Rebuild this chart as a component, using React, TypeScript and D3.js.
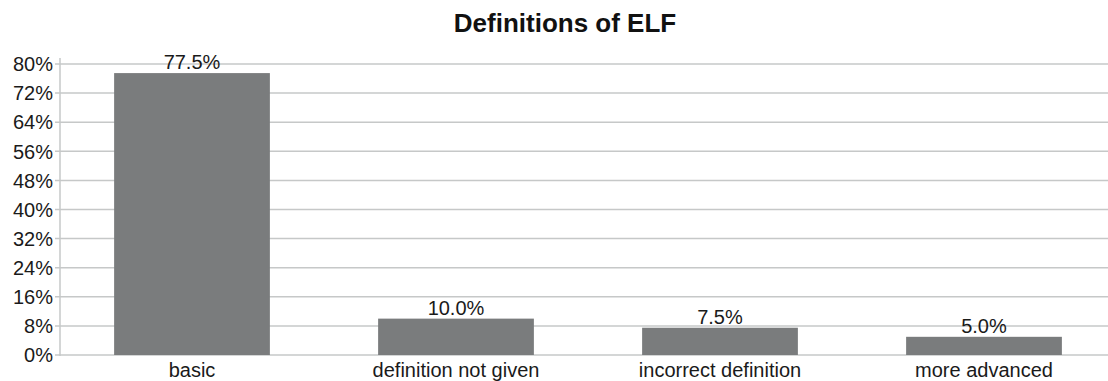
import React from "react";
import * as d3 from "d3";

const categories = ["basic", "definition not given", "incorrect definition", "more advanced"];
const values = [77.5, 10.0, 7.5, 5.0];
const yTicks = [0, 8, 16, 24, 32, 40, 48, 56, 64, 72, 80];

const W = 1108;
const H = 381;
const FONT = "'Liberation Sans', Arial, Helvetica, sans-serif";

export default function App() {
  const x = d3
    .scaleBand<string>()
    .domain(categories)
    .range([60, 1116])
    .paddingInner(0.41)
    .paddingOuter(0.205);
  const y = d3.scaleLinear().domain([0, 80]).range([355, 64]);

  return (
    <svg
      width={W}
      height={H}
      style={{ position: "absolute", left: 0, top: 0, background: "#fff" }}
      fontFamily={FONT}
    >
      <text x={565} y={32} textAnchor="middle" fontSize={26} fontWeight="bold" fill="#111">
        Definitions of ELF
      </text>

      {yTicks.map((t) => (
        <g key={t}>
          <line x1={55} x2={W} y1={y(t)} y2={y(t)} stroke="#c6c8c8" strokeWidth={1.5} />
          <text x={53} y={y(t)} dy="0.36em" textAnchor="end" fontSize={20} fill="#1a1a1a">
            {t}%
          </text>
        </g>
      ))}
      <line x1={60} x2={60} y1={58} y2={356} stroke="#c6c8c8" strokeWidth={1.5} />

      {categories.map((c, i) => (
        <g key={c}>
          <rect
            x={x(c)}
            y={y(values[i])}
            width={x.bandwidth()}
            height={y(0) - y(values[i])}
            fill="#7a7c7d"
          />
          <text
            x={(x(c) as number) + x.bandwidth() / 2}
            y={y(values[i]) - 4}
            textAnchor="middle"
            fontSize={20}
            fill="#1a1a1a"
          >
            {values[i].toFixed(1)}%
          </text>
          <text
            x={(x(c) as number) + x.bandwidth() / 2}
            y={377}
            textAnchor="middle"
            fontSize={20}
            fill="#1a1a1a"
          >
            {c}
          </text>
        </g>
      ))}
    </svg>
  );
}
